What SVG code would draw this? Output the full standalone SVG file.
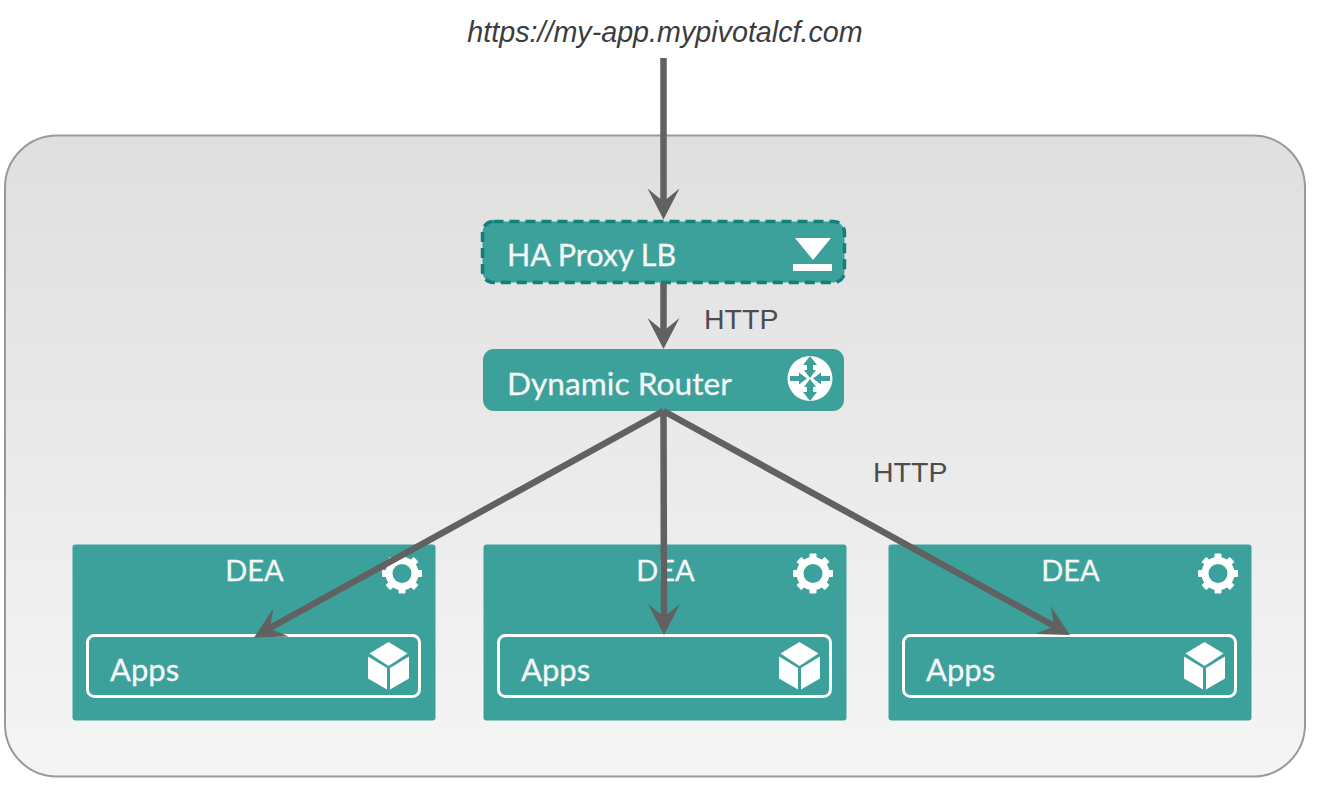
<svg xmlns="http://www.w3.org/2000/svg" xmlns:xlink="http://www.w3.org/1999/xlink" width="1328" height="802" viewBox="0 0 1328 802">
<style>
.box{fill:#3da19b}
.lbl{font-family:"Lato","Carlito","Open Sans",sans-serif;font-size:31px;fill:#f4f7f6;stroke:#f4f7f6;stroke-width:.3px}
.http{font-family:"Liberation Sans",Arial,sans-serif;font-size:28.500px;fill:#4d4d4d}
.url{font-family:"Liberation Sans",Arial,sans-serif;font-size:28.700px;font-style:italic;fill:#3c3c3c}
.conn{stroke:#616161;stroke-width:6.500;fill:none}
.head{fill:#616161}
.white{fill:#fff}
</style>
<defs>
<linearGradient id="bg" x1="0" y1="0" x2="0" y2="1"><stop offset="0" stop-color="#dfdfdf"/><stop offset="1" stop-color="#f5f5f5"/></linearGradient>
<path id="arrowhead" class="head" d="M0 0L-16 -31L0 -18L16 -31Z"/>
<g id="gear">
<circle cx="0" cy="0" r="13" fill="none" stroke="#fff" stroke-width="7"/>
<g class="white">
<rect x="-3.500" y="-20" width="7" height="6" rx="1"/>
<rect x="-3.500" y="-20" width="7" height="6" rx="1" transform="rotate(45)"/>
<rect x="-3.500" y="-20" width="7" height="6" rx="1" transform="rotate(90)"/>
<rect x="-3.500" y="-20" width="7" height="6" rx="1" transform="rotate(135)"/>
<rect x="-3.500" y="-20" width="7" height="6" rx="1" transform="rotate(180)"/>
<rect x="-3.500" y="-20" width="7" height="6" rx="1" transform="rotate(225)"/>
<rect x="-3.500" y="-20" width="7" height="6" rx="1" transform="rotate(270)"/>
<rect x="-3.500" y="-20" width="7" height="6" rx="1" transform="rotate(315)"/>
</g>
</g>
<g id="cube" class="white">
<path d="M0 -24L19 -12.500L0 0L-19 -12.500Z"/>
<path d="M-20.500 -9.500L-1.500 2V23.500L-20.500 12.500Z"/>
<path d="M20.500 -9.500L1.500 2V23.500L20.500 12.500Z"/>
</g>
</defs>

<g id="panel"><rect x="5" y="135.500" width="1300" height="641" rx="52" fill="url(#bg)" stroke="#999" stroke-width="2"/></g>

<g id="url"><text class="url" x="665" y="42" text-anchor="middle">https://my-app.mypivotalcf.com</text></g>

<g id="ha-proxy">
<rect class="box" x="482.500" y="221.500" width="362" height="61" rx="11" stroke="#0f8176" stroke-width="3.500" stroke-dasharray="10 6"/>
<text class="lbl" x="507" y="266" style="font-size:30.500px">HA Proxy LB</text>
<path class="white" d="M795 238H831L813 260Z"/>
<rect class="white" x="793" y="264" width="39" height="7"/>
</g>

<g id="router">
<rect class="box" x="483" y="349" width="361" height="62" rx="11"/>
<text class="lbl" x="507" y="395" style="font-size:31.700px">Dynamic Router</text>
<circle class="white" cx="810" cy="378.500" r="22.500"/>
<g fill="#3da19b">
<path d="M810 378L804 370H807V365H803L810 356L817 365H813V370H816Z"/>
<path d="M810 379L804 387H807V392H803L810 401L817 392H813V387H816Z"/>
<path d="M807 378.500L799 372.500V376H790V381H799V384.500Z"/>
<path d="M813 378.500L821 372.500V376H830V381H821V384.500Z"/>
</g>
</g>

<g id="dea-1">
<rect class="box" x="72.500" y="544.500" width="363" height="176" rx="3"/>
<text class="lbl" x="254.500" y="580.500" text-anchor="middle" style="font-size:29px">DEA</text>
<use xlink:href="#gear" href="#gear" x="402" y="573.500"/>
</g>
<g id="apps-1">
<rect x="87.500" y="635.500" width="332" height="61" rx="7" fill="none" stroke="#fff" stroke-width="3"/>
<text class="lbl" x="110" y="681">Apps</text>
<use xlink:href="#cube" href="#cube" x="388.500" y="666"/>
</g>

<g id="dea-2">
<rect class="box" x="483.500" y="544.500" width="363" height="176" rx="3"/>
<text class="lbl" x="665.500" y="580.500" text-anchor="middle" style="font-size:29px">DEA</text>
<use xlink:href="#gear" href="#gear" x="813" y="573.500"/>
</g>
<g id="apps-2">
<rect x="498.500" y="635.500" width="332" height="61" rx="7" fill="none" stroke="#fff" stroke-width="3"/>
<text class="lbl" x="521" y="681">Apps</text>
<use xlink:href="#cube" href="#cube" x="799.500" y="666"/>
</g>

<g id="dea-3">
<rect class="box" x="888.500" y="544.500" width="363" height="176" rx="3"/>
<text class="lbl" x="1070.500" y="580.500" text-anchor="middle" style="font-size:29px">DEA</text>
<use xlink:href="#gear" href="#gear" x="1218" y="573.500"/>
</g>
<g id="apps-3">
<rect x="903.500" y="635.500" width="332" height="61" rx="7" fill="none" stroke="#fff" stroke-width="3"/>
<text class="lbl" x="926" y="681">Apps</text>
<use xlink:href="#cube" href="#cube" x="1204.500" y="666"/>
</g>

<g id="connectors">
<line class="conn" x1="663.500" y1="58" x2="663.500" y2="203"/>
<use xlink:href="#arrowhead" href="#arrowhead" transform="translate(663.500 219.500)"/>
<line class="conn" x1="663.500" y1="283" x2="663.500" y2="333"/>
<use xlink:href="#arrowhead" href="#arrowhead" transform="translate(663.500 349)"/>
<line class="conn" x1="663.500" y1="411" x2="664" y2="619"/>
<use xlink:href="#arrowhead" href="#arrowhead" transform="translate(664 635)"/>
<line class="conn" x1="663.500" y1="411" x2="268" y2="629"/>
<use xlink:href="#arrowhead" href="#arrowhead" transform="translate(254 637.500) rotate(61)"/>
<line class="conn" x1="663.500" y1="411" x2="1056" y2="627"/>
<use xlink:href="#arrowhead" href="#arrowhead" transform="translate(1070 635) rotate(-61)"/>
</g>

<g id="labels">
<text class="http" x="704" y="329">HTTP</text>
<text class="http" x="873" y="482">HTTP</text>
</g>
</svg>
